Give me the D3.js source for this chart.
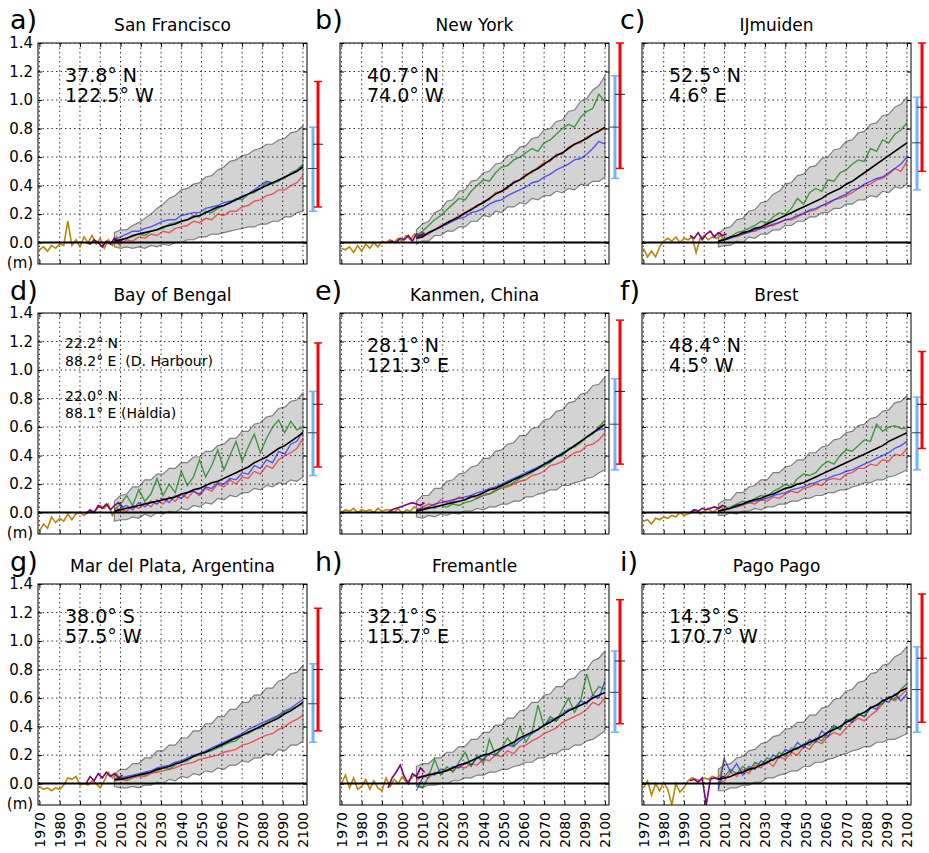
<!DOCTYPE html>
<html>
<head>
<meta charset="utf-8">
<script src="https://cdnjs.cloudflare.com/ajax/libs/d3/7.8.5/d3.min.js"></script>
<style>
  body { margin: 0; background: #fff; }
  svg { font-family: "DejaVu Sans", sans-serif; }
</style>
</head>
<body>
<div id="chart"></div>
<script>
// years shared by all panels
var projYears = [2007, 2010, 2013, 2016, 2019, 2022, 2025, 2028, 2031, 2034, 2037, 2040, 2043, 2046, 2049, 2052,
                 2055, 2058, 2061, 2064, 2067, 2070, 2073, 2076, 2079, 2082, 2085, 2088, 2091, 2094, 2097, 2100];
var gaugeYears = [1970, 1972, 1974, 1976, 1978, 1980, 1982, 1984, 1986, 1988, 1990, 1992, 1994, 1996, 1998, 2000,
                  2002, 2004, 2006, 2008, 2010];
var altYears = [1993, 1995, 1997, 1999, 2001, 2003, 2005, 2007, 2009, 2011];

var xTickYears = [1970, 1980, 1990, 2000, 2010, 2020, 2030, 2040, 2050, 2060, 2070, 2080, 2090, 2100];
var yTickValues = [0.0, 0.2, 0.4, 0.6, 0.8, 1.0, 1.2, 1.4];

// a) San Francisco
var sfUpper = [.07,.09,.09,.12,.14,.17,.20,.24, .27,.31,.33,.37,.38,.41,.42,.46, .47,.51,.53,.57,.58,.61,.62,.65, .66,.69,.69,.72,.73,.77,.78,.82];
var sfLower = [-.03,-.04,-.03,-.04,-.03,-.04,-.02,-.03, -.01,-.02,.00,.00,.02,.02,.04,.04, .06,.06,.07,.08,.09,.10,.11,.11, .13,.13,.15,.15,.18,.18,.21,.22];
var sfMean = [.01,.02,.03,.05,.06,.07,.08,.09, .11,.12,.13,.15,.16,.18,.19,.21, .23,.25,.26,.28,.30,.32,.34,.36, .38,.40,.42,.44,.46,.48,.50,.53];
var sfRed = [.00,-.01,.02,.01,.04,.03,.06,.05, .08,.07,.10,.11,.12,.15,.14,.17, .16,.20,.19,.22,.22,.25,.26,.29, .30,.33,.34,.37,.37,.40,.42,.47];
var sfBlue = [.02,.04,.06,.08,.08,.10,.11,.13, .15,.16,.16,.19,.20,.21,.21,.24, .25,.26,.28,.29,.30,.33,.34,.37, .40,.43,.42,.43,.46,.48,.50,.54];
var sfGreen = [.01,.02,.03,.04,.06,.05,.08,.09, .10,.13,.14,.15,.16,.19,.18,.22, .21,.24,.26,.28,.31,.30,.34,.35, .38,.42,.41,.44,.45,.49,.51,.55];
var sfGauge = [-.05,-.03,-.06,-.02,-.04,-.01,-.02,.15, -.02,.02,-.03,.04,.00,.05,-.01,.03, -.04,.02,-.02,.04,-.03];
var sfAlt = [.00,-.01,.02,.00,-.03,.01,-.01,.03,.00,.02];
var sfBlueBar = [0.22, 0.52, 0.81];
var sfRedBar = [0.25, 0.69, 1.13];

// b) New York
var nyUpper = [.09,.13,.15,.21,.23,.29,.30,.36, .37,.43,.44,.49,.50,.55,.56,.61, .62,.67,.68,.73,.74,.79,.80,.85, .86,.92,.93,.99,1.01,1.07,1.10,1.17];
var nyLower = [-.01,.01,.01,.05,.05,.08,.08,.11, .11,.15,.15,.19,.18,.22,.21,.25, .25,.28,.27,.31,.30,.33,.33,.36, .35,.38,.37,.41,.40,.43,.43,.46];
var nyMean = [.03,.04,.07,.09,.11,.14,.16,.18, .21,.23,.26,.28,.31,.34,.36,.39, .42,.44,.47,.50,.52,.55,.58,.61, .63,.66,.69,.71,.73,.76,.78,.81];
var nyRed = [.04,.05,.06,.09,.12,.13,.16,.19, .20,.24,.25,.29,.30,.35,.36,.38, .43,.44,.48,.49,.53,.56,.57,.62, .62,.67,.69,.70,.74,.76,.79,.80];
var nyBlue = [.04,.05,.07,.09,.11,.13,.15,.17, .18,.21,.22,.24,.27,.29,.30,.33, .35,.37,.39,.42,.43,.46,.48,.51, .53,.55,.58,.59,.62,.66,.71,.69];
var nyGreen = [.05,.08,.12,.16,.19,.23,.27,.31, .30,.36,.40,.44,.43,.49,.53,.54, .58,.60,.63,.66,.64,.70,.72,.76, .80,.83,.81,.88,.92,.94,1.04,.99];
var nyGauge = [-.04,-.05,-.03,-.07,-.02,-.06,-.01,-.04, .00,-.03,.01,.00,.02,.00,.03,.01, .05,.02,.06,.04,.08];
var nyAlt = [.00,.01,.00,.03,.02,.05,.01,.06,.05,.07];
var nyBlueBar = [0.45, 0.81, 1.17];
var nyRedBar = [0.52, 1.04, 1.40];

// c) IJmuiden
var ijUpper = [.06,.10,.11,.16,.17,.22,.23,.28, .29,.34,.36,.41,.42,.47,.48,.53, .54,.59,.60,.65,.66,.71,.72,.77, .78,.83,.84,.89,.90,.95,.97,1.02];
var ijLower = [-.03,-.02,-.02,.01,.00,.04,.03,.06, .06,.09,.09,.12,.12,.15,.15,.18, .18,.21,.21,.24,.24,.27,.27,.30, .30,.33,.32,.36,.35,.39,.38,.41];
var ijMean = [.01,.02,.04,.05,.07,.08,.10,.11, .13,.15,.17,.19,.21,.23,.25,.27, .29,.31,.34,.36,.38,.41,.43,.46, .49,.52,.55,.58,.61,.64,.67,.70];
var ijRed = [.01,.02,.04,.04,.06,.08,.08,.10, .12,.12,.14,.16,.16,.18,.21,.22, .23,.26,.27,.30,.31,.33,.35,.38, .40,.41,.44,.45,.48,.52,.50,.57];
var ijBlue = [.01,.02,.03,.05,.06,.07,.09,.10, .11,.13,.14,.16,.17,.19,.20,.23, .24,.26,.28,.30,.32,.34,.37,.38, .41,.43,.45,.46,.49,.52,.55,.60];
var ijGreen = [.01,.03,.04,.07,.08,.10,.12,.15, .14,.18,.21,.20,.24,.31,.27,.35, .38,.36,.44,.43,.49,.51,.55,.58, .57,.66,.64,.72,.70,.76,.79,.84];
var ijGauge = [-.04,-.10,-.06,-.10,-.03,.01,.03,.01, .04,.00,.03,.02,.04,-.07,.03,.05, .02,.04,.03,.05,.02];
var ijAlt = [.05,.03,.07,.02,.06,.08,.04,.07,.05,.06];
var ijBlueBar = [0.37, 0.70, 1.02];
var ijRedBar = [0.50, 0.95, 1.40];

// d) Bay of Bengal
var bbUpper = [.08,.12,.13,.18,.18,.23,.23,.27, .27,.31,.31,.35,.35,.39,.39,.43, .43,.47,.48,.52,.52,.57,.57,.62, .63,.67,.68,.73,.74,.78,.79,.84];
var bbLower = [-.06,-.05,-.05,-.03,-.04,-.01,-.03,.00, -.01,.01,.00,.03,.02,.05,.04,.07, .06,.10,.09,.12,.11,.14,.14,.17, .16,.19,.18,.21,.20,.23,.22,.25];
var bbMean = [.01,.02,.03,.04,.05,.06,.07,.08, .09,.10,.11,.13,.14,.16,.17,.19, .21,.22,.24,.26,.28,.30,.32,.35, .37,.39,.42,.45,.47,.50,.53,.56];
var bbRed = [.00,.02,.01,.05,.03,.07,.04,.09, .06,.11,.08,.13,.10,.15,.12,.17, .15,.20,.18,.23,.20,.25,.24,.29, .27,.33,.31,.37,.40,.42,.45,.52];
var bbBlue = [.00,.03,.05,.02,.07,.04,.08,.06, .10,.07,.12,.10,.14,.15,.13,.18, .17,.21,.20,.24,.23,.28,.27,.33, .31,.37,.35,.43,.41,.48,.50,.57];
var bbGreen = [.02,.06,.12,.05,.16,.08,.13,.24, .12,.20,.14,.29,.19,.25,.37,.25, .33,.44,.30,.40,.50,.36,.46,.55, .42,.52,.60,.65,.56,.64,.58,.60];
var bbGauge = [-.13,-.08,-.11,-.03,-.07,-.04,-.06,-.01, -.05,-.01,.00,-.02,.01,.00,.02,.05, .03,.06,-.02,.03,.01];
var bbAlt = [-.01,.02,.00,.05,.03,.06,.02,.05,.07,.04];
var bbBlueBar = [0.26, 0.56, 0.85];
var bbRedBar = [0.32, 0.76, 1.19];

// e) Kanmen, China
var kmUpper = [.08,.12,.12,.17,.17,.22,.23,.27, .28,.32,.33,.38,.38,.43,.44,.48, .49,.54,.54,.59,.60,.65,.66,.71, .72,.77,.78,.83,.84,.89,.90,.95];
var kmLower = [-.03,-.04,-.02,-.03,-.01,-.02,.00,-.01, .01,.01,.03,.02,.04,.04,.06,.06, .08,.08,.11,.11,.13,.14,.16,.16, .19,.19,.21,.22,.24,.25,.28,.30];
var kmMean = [.01,.02,.03,.04,.05,.06,.07,.08, .09,.11,.12,.14,.16,.17,.19,.21, .23,.25,.27,.29,.31,.34,.36,.39, .41,.44,.47,.50,.53,.56,.59,.62];
var kmRed = [.01,.04,.06,.05,.09,.07,.08,.11, .09,.12,.10,.14,.13,.16,.17,.18, .20,.22,.23,.26,.27,.29,.33,.34, .36,.39,.42,.43,.47,.48,.51,.56];
var kmBlue = [.02,.03,.04,.06,.07,.08,.09,.10, .11,.12,.14,.15,.17,.18,.20,.22, .24,.26,.28,.30,.32,.34,.37,.39, .42,.44,.47,.50,.53,.56,.58,.59];
var kmGreen = [.01,.02,.04,.03,.05,.04,.06,.05, .07,.08,.10,.12,.13,.15,.18,.19, .21,.24,.26,.28,.31,.33,.35,.39, .40,.45,.46,.49,.53,.55,.60,.65];
var kmGauge = [.00,.02,.01,.03,.00,.02,.01,.02, .00,.03,.01,.02,.02,.00,.03,-.01, .02,.01,.04,.02,.03];
var kmAlt = [.00,.02,.03,.04,.05,.06,.07,.06,.05,.07];
var kmBlueBar = [0.30, 0.62, 0.94];
var kmRedBar = [0.34, 0.85, 1.35];

// f) Brest
var brUpper = [.06,.09,.09,.14,.14,.18,.19,.23, .23,.28,.28,.32,.33,.37,.37,.42, .42,.46,.47,.51,.52,.56,.57,.61, .62,.66,.67,.71,.72,.77,.78,.82];
var brLower = [-.02,-.02,.00,-.01,.01,.01,.03,.02, .04,.04,.06,.06,.08,.08,.10,.10, .12,.12,.14,.14,.16,.16,.18,.19, .21,.21,.23,.23,.25,.26,.28,.30];
var brMean = [.01,.02,.03,.05,.06,.08,.09,.10, .12,.13,.15,.17,.18,.20,.21,.23, .25,.27,.29,.31,.33,.35,.37,.39, .41,.43,.45,.47,.50,.52,.54,.56];
var brRed = [.01,.02,.03,.04,.05,.07,.06,.09, .08,.11,.10,.13,.15,.14,.17,.18, .20,.19,.23,.24,.23,.27,.28,.31, .31,.34,.33,.37,.36,.41,.40,.45];
var brBlue = [.01,.02,.03,.04,.06,.07,.08,.09, .10,.12,.13,.14,.16,.17,.18,.20, .21,.23,.24,.26,.27,.29,.30,.32, .34,.36,.38,.40,.42,.45,.47,.50];
var brGreen = [.01,.03,.04,.06,.08,.07,.10,.12, .11,.15,.17,.20,.18,.24,.27,.26, .28,.33,.36,.34,.40,.44,.43,.47, .51,.50,.62,.57,.60,.61,.59,.59];
var brGauge = [-.06,-.05,-.08,-.04,-.05,-.03,-.04,-.02, -.03,.00,-.02,-.01,.00,.02,-.01,.01, .03,.00,.02,.04,.02];
var brAlt = [.00,.02,.01,.03,.02,.03,.04,.03,.05,.04];
var brBlueBar = [0.30, 0.56, 0.81];
var brRedBar = [0.45, 0.76, 1.13];

// g) Mar del Plata
var mpUpper = [.07,.10,.10,.14,.14,.18,.18,.23, .23,.27,.27,.32,.32,.37,.37,.42, .42,.47,.47,.52,.52,.57,.57,.62, .62,.67,.67,.72,.73,.77,.78,.83];
var mpLower = [-.02,-.03,-.03,-.02,-.03,-.01,-.01,.01, .00,.03,.02,.05,.04,.07,.06,.09, .08,.11,.10,.13,.13,.16,.15,.18, .18,.21,.20,.24,.23,.27,.27,.30];
var mpMean = [.03,.03,.04,.05,.06,.07,.08,.10, .11,.12,.14,.15,.17,.19,.21,.22, .24,.26,.28,.30,.32,.34,.36,.38, .40,.42,.44,.46,.49,.51,.54,.57];
var mpRed = [.02,.03,.02,.04,.05,.05,.07,.08, .09,.10,.11,.13,.14,.15,.17,.18, .19,.20,.22,.23,.24,.27,.28,.30, .32,.34,.35,.38,.40,.43,.45,.48];
var mpBlue = [.03,.04,.05,.06,.07,.08,.09,.11, .12,.13,.15,.16,.18,.20,.21,.23, .25,.27,.29,.31,.33,.35,.38,.40, .42,.44,.46,.48,.51,.53,.56,.59];
var mpGreen = [.02,.04,.03,.05,.06,.06,.08,.09, .11,.10,.13,.15,.16,.19,.20,.22, .23,.25,.27,.29,.30,.34,.35,.38, .39,.43,.45,.47,.50,.52,.54,.56];
var mpGauge = [-.02,-.04,-.03,-.05,-.03,-.04,-.01,.04, .03,.05,-.01,.00,-.01,.02,.00,-.03, .02,.08,.04,.07,.03];
var mpAlt = [.00,.05,.02,.07,.04,.08,.05,.07,.04,.06];
var mpBlueBar = [0.29, 0.56, 0.84];
var mpRedBar = [0.37, 0.80, 1.23];

// h) Fremantle
var frUpper = [.12,.14,.14,.18,.18,.22,.22,.26, .26,.31,.31,.36,.36,.41,.41,.46, .46,.51,.52,.57,.57,.62,.63,.68, .68,.73,.74,.79,.80,.86,.88,.93];
var frLower = [-.02,-.03,-.01,-.01,.00,.00,.02,.02, .04,.04,.06,.06,.08,.08,.10,.10, .12,.13,.15,.15,.18,.18,.21,.21, .24,.24,.27,.27,.30,.31,.34,.37];
var frMean = [.04,.05,.06,.07,.08,.09,.11,.13, .14,.16,.18,.20,.21,.23,.25,.27, .29,.32,.34,.36,.38,.41,.43,.46, .48,.51,.53,.55,.57,.60,.62,.64];
var frRed = [.02,.06,.04,.08,.07,.10,.09,.12, .11,.14,.13,.17,.16,.20,.19,.23, .21,.26,.27,.30,.32,.35,.37,.39, .43,.45,.47,.49,.52,.57,.55,.60];
var frBlue = [-.05,.04,.07,.06,.10,.09,.12,.11, .15,.13,.18,.17,.21,.20,.24,.27, .26,.30,.33,.35,.38,.41,.45,.44, .49,.52,.53,.58,.56,.62,.60,.72];
var frGreen = [.00,-.03,.05,.17,.06,.12,.08,.15, .22,.12,.20,.14,.31,.20,.25,.32, .26,.40,.29,.36,.55,.40,.47,.44, .52,.60,.50,.58,.77,.62,.68,.66];
var frGauge = [.00,.06,-.03,.04,-.04,-.02,.03,-.04, .02,-.03,-.05,.04,-.02,.03,.00,.05, .01,.03,.06,.04,.05];
var frAlt = [-.03,.04,.08,.13,.05,.00,.07,.05,.11,.08];
var frBlueBar = [0.36, 0.64, 0.93];
var frRedBar = [0.42, 0.86, 1.29];

// i) Pago Pago
var ppUpper = [.10,.13,.14,.18,.19,.23,.24,.28, .29,.33,.34,.38,.39,.43,.43,.48, .48,.53,.54,.59,.60,.65,.66,.71, .72,.77,.78,.83,.84,.89,.91,.96];
var ppLower = [-.05,-.05,-.03,-.03,-.01,-.01,.01,.01, .04,.04,.06,.07,.09,.09,.12,.12, .15,.15,.17,.18,.20,.21,.23,.24, .26,.26,.29,.29,.31,.31,.33,.35];
var ppMean = [.03,.04,.05,.07,.08,.10,.11,.13, .15,.17,.19,.21,.23,.25,.27,.29, .31,.33,.36,.38,.40,.43,.45,.48, .50,.53,.55,.58,.60,.62,.65,.67];
var ppRed = [.00,.02,.08,.05,.10,.07,.13,.11, .16,.12,.19,.17,.22,.20,.26,.24, .30,.28,.33,.36,.34,.39,.43,.46, .44,.48,.51,.56,.60,.58,.62,.66];
var ppBlue = [-.04,.17,.08,.14,.06,.12,.10,.16, .14,.20,.18,.24,.22,.29,.25,.31, .29,.37,.33,.40,.38,.45,.43,.49, .47,.54,.52,.59,.57,.63,.58,.63];
var ppGreen = [.00,.05,.10,.07,.12,.09,.15,.13, .18,.16,.22,.19,.25,.24,.28,.27, .32,.30,.36,.41,.38,.44,.46,.49, .47,.53,.55,.56,.61,.59,.66,.70];
var ppGauge = [-.03,.02,-.08,.00,-.05,.01,-.04,-.15, .00,-.06,-.03,.02,.04,.03,.02,.04, .03,.05,.04,.06,.19];
var ppAlt = [.02,.03,.01,.04,-.15,.03,.04,.03,.05,.04];
var ppBlueBar = [0.36, 0.66, 0.96];
var ppRedBar = [0.43, 0.88, 1.33];

// panel table
var panels = [
  {letter: "a)", title: "San Francisco", coords: ["37.8\u00b0 N", "122.5\u00b0 W"], upper: sfUpper, lower: sfLower, mean: sfMean, red: sfRed, blue: sfBlue, green: sfGreen, gauge: sfGauge, alt: sfAlt, blueBar: sfBlueBar, redBar: sfRedBar},
  {letter: "b)", title: "New York", coords: ["40.7\u00b0 N", "74.0\u00b0 W"], upper: nyUpper, lower: nyLower, mean: nyMean, red: nyRed, blue: nyBlue, green: nyGreen, gauge: nyGauge, alt: nyAlt, blueBar: nyBlueBar, redBar: nyRedBar},
  {letter: "c)", title: "IJmuiden", coords: ["52.5\u00b0 N", "4.6\u00b0 E"], upper: ijUpper, lower: ijLower, mean: ijMean, red: ijRed, blue: ijBlue, green: ijGreen, gauge: ijGauge, alt: ijAlt, blueBar: ijBlueBar, redBar: ijRedBar},
  {letter: "d)", title: "Bay of Bengal", coords: ["22.2\u00b0 N", "88.2\u00b0 E\u00a0\u00a0(D. Harbour)", "22.0\u00b0 N", "88.1\u00b0 E (Haldia)"], small: true, upper: bbUpper, lower: bbLower, mean: bbMean, red: bbRed, blue: bbBlue, green: bbGreen, gauge: bbGauge, alt: bbAlt, blueBar: bbBlueBar, redBar: bbRedBar},
  {letter: "e)", title: "Kanmen, China", coords: ["28.1\u00b0 N", "121.3\u00b0 E"], upper: kmUpper, lower: kmLower, mean: kmMean, red: kmRed, blue: kmBlue, green: kmGreen, gauge: kmGauge, alt: kmAlt, blueBar: kmBlueBar, redBar: kmRedBar},
  {letter: "f)", title: "Brest", coords: ["48.4\u00b0 N", "4.5\u00b0 W"], upper: brUpper, lower: brLower, mean: brMean, red: brRed, blue: brBlue, green: brGreen, gauge: brGauge, alt: brAlt, blueBar: brBlueBar, redBar: brRedBar},
  {letter: "g)", title: "Mar del Plata, Argentina", coords: ["38.0\u00b0 S", "57.5\u00b0 W"], upper: mpUpper, lower: mpLower, mean: mpMean, red: mpRed, blue: mpBlue, green: mpGreen, gauge: mpGauge, alt: mpAlt, blueBar: mpBlueBar, redBar: mpRedBar},
  {letter: "h)", title: "Fremantle", coords: ["32.1\u00b0 S", "115.7\u00b0 E"], upper: frUpper, lower: frLower, mean: frMean, red: frRed, blue: frBlue, green: frGreen, gauge: frGauge, alt: frAlt, blueBar: frBlueBar, redBar: frRedBar},
  {letter: "i)", title: "Pago Pago", coords: ["14.3\u00b0 S", "170.7\u00b0 W"], upper: ppUpper, lower: ppLower, mean: ppMean, red: ppRed, blue: ppBlue, green: ppGreen, gauge: ppGauge, alt: ppAlt, blueBar: ppBlueBar, redBar: ppRedBar}
];

// layout
var svgWidth = 929;
var svgHeight = 853;
var colLeft = [38, 340, 642];
var rowTop = [43, 313, 584];
var letterX = [10, 315, 620];
var letterDy = [-14, -13, -13];
var panelWidth = 269;
var panelHeight = 221;

var svg = d3.select("#chart")
    .append("svg")
    .attr("width", svgWidth)
    .attr("height", svgHeight);

svg.append("rect").attr("width", svgWidth).attr("height", svgHeight).attr("fill", "#fff");

var defs = svg.append("defs");
defs.append("clipPath").attr("id", "plotClip")
    .append("rect").attr("width", panelWidth).attr("height", panelHeight);

var xScale = d3.scaleLinear().domain([1969.3, 2102]).range([0, panelWidth]);
var yScale = d3.scaleLinear().domain([-0.15, 1.4]).range([panelHeight, 0]);

var line = d3.line().x(d => xScale(d[0])).y(d => yScale(d[1]));
var band = d3.area().x(d => xScale(d[0])).y0(d => yScale(d[1])).y1(d => yScale(d[2]));

function zipYears(years, vals) {
  return years.map((yr, k) => [yr, vals[k]]);
}

panels.forEach(function(p, i) {
  var col = i % 3;
  var row = Math.floor(i / 3);
  var chartGroup = svg.append("g")
      .attr("transform", `translate(${colLeft[col]}, ${rowTop[row]})`);

  var plot = chartGroup.append("g").attr("clip-path", "url(#plotClip)");

  // shaded ensemble range
  plot.append("path")
      .datum(projYears.map((yr, k) => [yr, p.lower[k], p.upper[k]]))
      .attr("d", band)
      .attr("fill", "#d3d3d3")
      .attr("stroke", "#7f7f7f")
      .attr("stroke-width", 1.2);

  // dotted grid
  plot.selectAll(".vgrid").data(xTickYears).enter().append("line")
      .attr("x1", d => xScale(d)).attr("x2", d => xScale(d))
      .attr("y1", 0).attr("y2", panelHeight)
      .attr("stroke", "#000").attr("stroke-width", 0.8).attr("stroke-dasharray", "1.5,3");
  plot.selectAll(".hgrid").data(yTickValues).enter().append("line")
      .attr("y1", d => yScale(d)).attr("y2", d => yScale(d))
      .attr("x1", 0).attr("x2", panelWidth)
      .attr("stroke", "#000").attr("stroke-width", 0.8).attr("stroke-dasharray", "1.5,3");

  // observations
  plot.append("path").datum(zipYears(gaugeYears, p.gauge)).attr("d", line)
      .attr("fill", "none").attr("stroke", "#b8860b").attr("stroke-width", 1.6);
  plot.append("path").datum(zipYears(altYears, p.alt)).attr("d", line)
      .attr("fill", "none").attr("stroke", "#800080").attr("stroke-width", 1.6);

  // projections
  [[p.red, "#ff0000", 0.6], [p.blue, "#0000ff", 0.6], [p.green, "#008000", 0.7]].forEach(function(s) {
    plot.append("path").datum(zipYears(projYears, s[0])).attr("d", line)
        .attr("fill", "none").attr("stroke", s[1]).attr("stroke-opacity", s[2]).attr("stroke-width", 1.4);
  });
  plot.append("path").datum(zipYears(projYears, p.mean)).attr("d", line)
      .attr("fill", "none").attr("stroke", "#000").attr("stroke-width", 1.6);

  // zero line
  plot.append("line")
      .attr("x1", 0).attr("x2", panelWidth)
      .attr("y1", yScale(0)).attr("y2", yScale(0))
      .attr("stroke", "#000").attr("stroke-width", 2);

  // axes with inward ticks on all sides
  var leftAxis = d3.axisLeft(yScale).tickValues(yTickValues).tickSizeInner(-4).tickSizeOuter(0).tickPadding(5)
      .tickFormat(col === 0 ? d3.format(".1f") : "");
  var rightAxis = d3.axisRight(yScale).tickValues(yTickValues).tickSizeInner(-4).tickSizeOuter(0).tickFormat("");
  var bottomAxis = d3.axisBottom(xScale).tickValues(xTickYears).tickSizeInner(-4).tickSizeOuter(0)
      .tickFormat(row === 2 ? d3.format("d") : "");
  var topAxis = d3.axisTop(xScale).tickValues(xTickYears).tickSizeInner(-4).tickSizeOuter(0).tickFormat("");

  var gl = chartGroup.append("g").call(leftAxis);
  chartGroup.append("g").attr("transform", `translate(${panelWidth}, 0)`).call(rightAxis);
  var gb = chartGroup.append("g").attr("transform", `translate(0, ${panelHeight})`).call(bottomAxis);
  chartGroup.append("g").call(topAxis);

  chartGroup.selectAll(".domain").remove();
  chartGroup.selectAll(".tick line").attr("stroke", "#000");
  gl.attr("font-size", 15).attr("font-family", "DejaVu Sans");
  gl.selectAll("text").attr("fill", "#000");
  gb.attr("font-size", 14).attr("font-family", "DejaVu Sans");
  gb.selectAll("text")
      .attr("fill", "#000")
      .attr("transform", "rotate(-90)")
      .attr("text-anchor", "end")
      .attr("x", -7)
      .attr("y", 0)
      .attr("dy", "0.35em");

  chartGroup.append("rect")
      .attr("width", panelWidth).attr("height", panelHeight)
      .attr("fill", "none").attr("stroke", "#000").attr("stroke-width", 1);

  if (col === 0) {
    chartGroup.append("text")
        .attr("x", -18).attr("y", 225)
        .attr("text-anchor", "middle")
        .attr("font-size", 15)
        .text("(m)");
  }

  // title and letter
  chartGroup.append("text")
      .attr("x", panelWidth / 2).attr("y", -12)
      .attr("text-anchor", "middle")
      .attr("font-size", 17)
      .text(p.title);
  svg.append("text")
      .attr("x", letterX[col]).attr("y", rowTop[row] + letterDy[row])
      .attr("font-size", 27)
      .text(p.letter);

  // location text
  var coordY = p.small ? [35, 53, 88, 105] : [39, 59];
  p.coords.forEach(function(t, k) {
    chartGroup.append("text")
        .attr("x", 27).attr("y", coordY[k])
        .attr("font-size", p.small ? 14 : 19)
        .text(t);
  });

  // error bars beyond the axes
  [[p.blueBar, panelWidth + 6, "#6db5ff", "#24476b"], [p.redBar, panelWidth + 11, "#ff0000", "#6b0000"]].forEach(function(b) {
    var v = b[0], x = b[1];
    chartGroup.append("line")
        .attr("x1", x).attr("x2", x).attr("y1", yScale(v[0])).attr("y2", yScale(v[2]))
        .attr("stroke", b[2]).attr("stroke-width", 3);
    [v[0], v[2]].forEach(function(end) {
      chartGroup.append("line")
          .attr("x1", x - 4).attr("x2", x + 4).attr("y1", yScale(end)).attr("y2", yScale(end))
          .attr("stroke", b[2]).attr("stroke-width", 1.5);
    });
    chartGroup.append("line")
        .attr("x1", x - 5).attr("x2", x + 5).attr("y1", yScale(v[1])).attr("y2", yScale(v[1]))
        .attr("stroke", b[3]).attr("stroke-width", 1);
  });
});
</script>
</body>
</html>
